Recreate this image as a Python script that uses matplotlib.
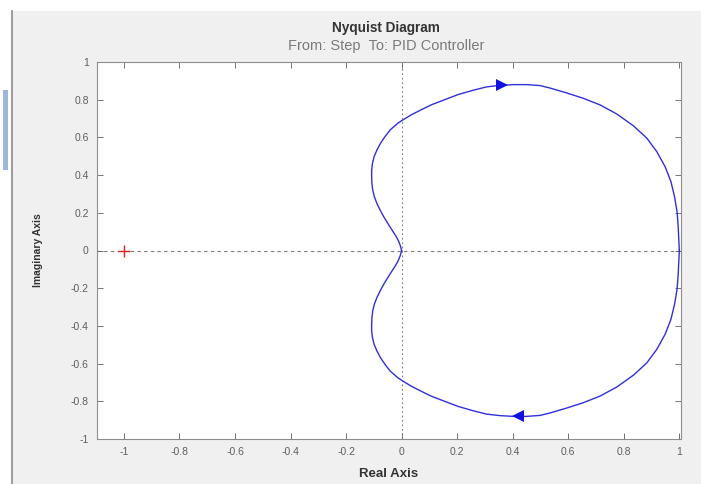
import numpy as np
import matplotlib.pyplot as plt
from matplotlib.patches import Rectangle

# Nyquist curve: upper branch, from the origin to (1, 0)
re_upper = [0.0, -0.005, -0.012, -0.022, -0.034, -0.049, -0.064, -0.077, -0.089,
            -0.098, -0.104, -0.107, -0.108, -0.108, -0.105, -0.099, -0.089, -0.076,
            -0.060, -0.041, -0.013, 0.005, 0.035, 0.071, 0.107, 0.155, 0.203,
            0.257, 0.306, 0.354, 0.402, 0.45, 0.498, 0.534, 0.594, 0.655, 0.715,
            0.775, 0.835, 0.883, 0.919, 0.949, 0.970, 0.983, 0.992, 0.996, 0.998,
            1.0]
im_upper = [0.0, 0.027, 0.053, 0.080, 0.107, 0.142, 0.178, 0.213, 0.249,
            0.284, 0.320, 0.356, 0.391, 0.427, 0.462, 0.498, 0.533, 0.569,
            0.604, 0.640, 0.676, 0.693, 0.720, 0.747, 0.773, 0.800, 0.827,
            0.850, 0.868, 0.876, 0.880, 0.880, 0.875, 0.862, 0.836, 0.807, 0.772,
            0.724, 0.661, 0.596, 0.524, 0.444, 0.364, 0.284, 0.204, 0.124, 0.060,
            0.0]

# direction arrows (top points right, bottom points left)
arrow_re = [0.36, 0.42]
arrow_im = [0.877, -0.88]

crit_re, crit_im = -1.0, 0.0

x_ticks = [-1, -0.8, -0.6, -0.4, -0.2, 0, 0.2, 0.4, 0.6, 0.8, 1]
y_ticks = [-1, -0.8, -0.6, -0.4, -0.2, 0, 0.2, 0.4, 0.6, 0.8, 1]

plt.rcParams['font.family'] = ['Liberation Sans', 'DejaVu Sans']

fig = plt.figure(figsize=(7.01, 4.84), dpi=100, facecolor='#f0f0f0')
# bits of the window frame around the MATLAB figure
fig.patches.append(Rectangle((0, 1 - 11 / 484), 1, 11 / 484, transform=fig.transFigure,
                             facecolor='white', edgecolor='none', zorder=0))
fig.patches.append(Rectangle((0, 0), 12 / 701, 1 - 11 / 484, transform=fig.transFigure,
                             facecolor='white', edgecolor='none', zorder=0))
fig.patches.append(Rectangle((3 / 701, 1 - 170 / 484), 5 / 701, 80 / 484, transform=fig.transFigure,
                             facecolor='#9fb6dc', edgecolor='none', zorder=1))
fig.lines.append(plt.Line2D([12 / 701, 12 / 701], [0, 1 - 11 / 484], transform=fig.transFigure,
                            color='#8a8a8a', lw=1.2))

ax = fig.add_axes([97 / 701, 1 - 439 / 484, 584 / 701, 377 / 484])
ax.set_facecolor('white')

# reference lines through the origin
ax.axhline(0, color='#7a7a7a', ls=(0, (3, 3)), lw=0.8, zorder=1)
ax.axvline(0, color='#7a7a7a', ls=(0, (1.5, 2.5)), lw=0.8, zorder=1)

re_u = np.array(re_upper)
im_u = np.array(im_upper)
curve_col = '#3030d8'
ax.plot(re_u, im_u, color=curve_col, lw=1.0, zorder=3)
ax.plot(re_u, -im_u, color=curve_col, lw=1.0, zorder=3)
ax.plot(arrow_re[0], arrow_im[0], marker='>', color='#1010e0', ms=8, mew=0, zorder=4)
ax.plot(arrow_re[1], arrow_im[1], marker='<', color='#1010e0', ms=8, mew=0, zorder=4)

ax.plot(crit_re, crit_im, marker='+', color='#e02020', ms=8, mew=1.0, zorder=4)

ax.set_xlim(-1.097, 1.006)
ax.set_ylim(-1, 1)
ax.set_xticks(x_ticks)
ax.set_yticks(y_ticks)
ax.set_xticklabels([f'{v:g}' for v in x_ticks])
ax.set_yticklabels([f'{v:g}' for v in y_ticks])
ax.tick_params(direction='in', length=4, width=0.6, colors='#5e5e5e', labelsize=7.5,
               top=True, right=True, pad=6)
for s in ax.spines.values():
    s.set_color('#8c8c8c')
    s.set_linewidth(0.8)

ax.set_xlabel('Real Axis', fontsize=9.5, fontweight='bold', color='#333333', labelpad=8)
ax.set_ylabel('Imaginary Axis', fontsize=7.5, fontweight='bold', color='#333333', labelpad=20)
fig.text(386 / 701, 1 - 28 / 484, 'Nyquist Diagram', ha='center', va='center',
         fontsize=9.8, fontweight='bold', color='#333333')
fig.text(386 / 701, 1 - 46 / 484, 'From: Step  To: PID Controller', ha='center', va='center',
         fontsize=10.5, color='#7a7a7a')

fig.savefig('out.png', dpi=100, facecolor=fig.get_facecolor())
